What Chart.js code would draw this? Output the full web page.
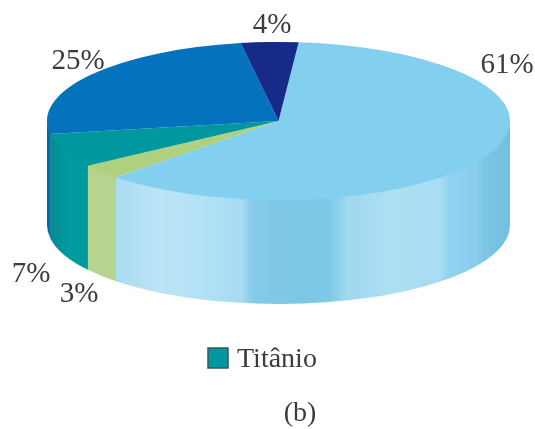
<!DOCTYPE html>
<html>
<head>
<meta charset="utf-8">
<title>Titânio</title>
<script src="https://cdn.jsdelivr.net/npm/chart.js@4"></script>
<style>
  html, body { margin: 0; background: #fff; }
  canvas { display: block; }
</style>
</head>
<body>
<canvas id="pieChart" width="535" height="429"></canvas>
<script>
const categories = ['', '', 'Titânio', '', ''];
const percents = [61, 3, 7, 25, 4];
const topColors = ['#82cff0', '#aed07f', '#00979e', '#0472bd', '#172a87'];
const caption = '(b)';

// side wall shading: [x fraction across the pie, colour]
const wallStops = [
  [[0.147, '#a8dbf2'], [0.244, '#bde4f7'], [0.358, '#b0e0f5'], [0.422, '#a6dbf2'], [0.440, '#86cbe9'],
   [0.546, '#7cc6e6'], [0.611, '#7fcaea'], [0.648, '#9fd8f0'], [0.741, '#aedff4'], [0.849, '#a8dcf3'],
   [0.868, '#93d3f0'], [0.930, '#86cdec'], [0.945, '#7cc5e4'], [1, '#72bfe0']],
  [[0, '#b5d48e'], [1, '#b5d48e']],
  [[0, '#0a8290'], [0.025, '#03929a'], [0.05, '#009ba0'], [1, '#009ba0']],
  [[0, '#0468ad'], [1, '#0468ad']],
  [[0, '#172a87'], [1, '#172a87']]
];

const FLATTEN = 79 / 231.5; // vertical squash of the disc
const DEPTH = 104;          // wall height in px
const serif = '"Liberation Serif", "Times New Roman", serif';

// where each percent label sits, same order as percents
const labelSpots = [[507, 65], [79, 294], [31, 274], [78, 61], [272, 25]];

const pie3d = {
  id: 'pie3d',
  beforeDatasetsDraw(chart) {
    const ctx = chart.ctx;
    const arcs = chart.getDatasetMeta(0).data;
    const { x: cx, y: cy, outerRadius: rx } = arcs[0];
    const ry = rx * FLATTEN;

    // front half of the wall, one piece per slice
    arcs.forEach((arc, i) => {
      const from = Math.max(arc.startAngle, 0);
      const to = Math.min(arc.endAngle, Math.PI);
      if (to <= from) return;
      const grad = ctx.createLinearGradient(cx - rx, 0, cx + rx, 0);
      wallStops[i].forEach(([pos, col]) => grad.addColorStop(pos, col));
      ctx.beginPath();
      // start a little high so no white seam shows under the top face
      ctx.ellipse(cx, cy - 1.5, rx, ry, 0, from, to);
      ctx.ellipse(cx, cy + DEPTH, rx, ry, 0, to, from, true);
      ctx.closePath();
      ctx.fillStyle = grad;
      ctx.fill();
    });

    // top face: squash the circular arcs into an ellipse
    ctx.save();
    ctx.translate(cx, cy);
    ctx.scale(1, FLATTEN);
    ctx.translate(-cx, -cy);
  },
  afterDatasetsDraw(chart) {
    const ctx = chart.ctx;
    ctx.restore();

    ctx.fillStyle = '#3c3c3c';
    ctx.font = '29px ' + serif;
    ctx.textAlign = 'center';
    ctx.textBaseline = 'middle';
    percents.forEach((p, i) => {
      ctx.fillText(p + '%', labelSpots[i][0], labelSpots[i][1]);
    });

    // legend: only the named slice gets an entry
    const named = categories.findIndex(c => c !== '');
    ctx.fillStyle = topColors[named];
    ctx.strokeStyle = '#3d5560';
    ctx.lineWidth = 1.5;
    ctx.fillRect(208, 348, 20, 20);
    ctx.strokeRect(208, 348, 20, 20);

    ctx.fillStyle = '#3c3c3c';
    ctx.font = '28px ' + serif;
    ctx.textAlign = 'left';
    ctx.textBaseline = 'alphabetic';
    ctx.fillText(categories[named], 237, 367);

    ctx.textAlign = 'center';
    ctx.fillText(caption, 300, 421);
  }
};

new Chart(document.getElementById('pieChart'), {
  type: 'pie',
  data: {
    labels: categories,
    datasets: [{
      data: percents,
      backgroundColor: topColors,
      borderWidth: 0,
      radius: 231.5,
      clip: false
    }]
  },
  options: {
    responsive: false,
    animation: false,
    rotation: 5,
    events: [],
    layout: { padding: { left: 22, top: 0, right: 0, bottom: 187 } },
    plugins: {
      legend: { display: false },
      title: { display: false },
      tooltip: { enabled: false }
    }
  },
  plugins: [pie3d]
});
</script>
</body>
</html>
